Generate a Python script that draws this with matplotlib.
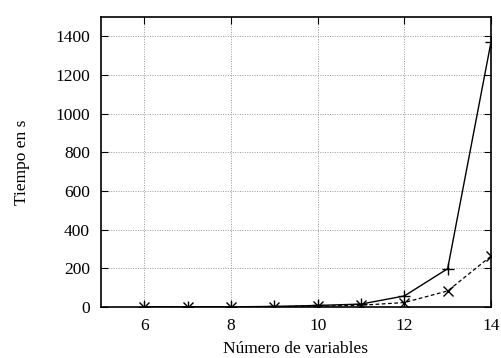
import matplotlib.pyplot as plt

# datos
variables = [6, 7, 8, 9, 10, 11, 12, 13, 14]
tiempo_a = [0.1, 0.3, 0.8, 3, 8, 15, 57, 198, 1370]
tiempo_b = [0.1, 0.2, 0.5, 2, 4, 9, 23, 83, 263]

plt.rcParams['font.family'] = ['Liberation Serif', 'DejaVu Serif']

fig = plt.figure(figsize=(5.01, 3.58), dpi=100)
ax = fig.add_axes([0.2016, 0.1425, 0.7784, 0.81])

ax.plot(variables, tiempo_a, color='black', lw=1.0, marker='+', ms=8, mew=1.0)
ax.plot(variables, tiempo_b, color='black', lw=0.9, ls=(0, (3, 2)), marker='x', ms=7, mew=1.0)

ax.set_xlim(5, 14)
ax.set_ylim(0, 1500)
ax.set_xticks([6, 8, 10, 12, 14])
ax.set_yticks(range(0, 1401, 200))
ax.tick_params(direction='in', top=True, right=True, length=5, labelsize=12.5)
ax.tick_params(axis='y', pad=8)
ax.tick_params(axis='x', pad=8)
ax.grid(True, color='#999999', ls=(0, (1, 1.5)), lw=0.7)
for s in ax.spines.values():
    s.set_linewidth(1.2)

ax.set_xlabel('Número de variables', fontsize=12.5, labelpad=5)
ax.set_ylabel('Tiempo en s', fontsize=12.5, labelpad=18)

plt.savefig('out.png', dpi=100)
